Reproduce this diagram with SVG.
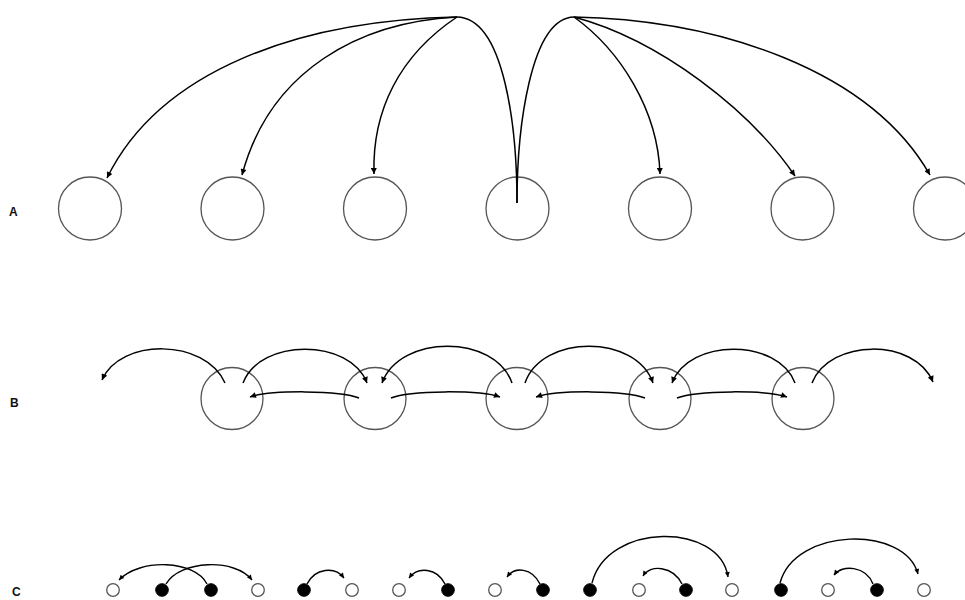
<svg xmlns="http://www.w3.org/2000/svg" width="965" height="600" viewBox="0 0 965 600">
<style>
.big{fill:none;stroke:#555;stroke-width:1.3}
.so{fill:#fff;stroke:#555;stroke-width:1.3}
.sf{fill:#000;stroke:#000;stroke-width:1}
.c{fill:none;stroke:#000;stroke-width:1.5}
.ca{fill:none;stroke:#000;stroke-width:1.5;marker-end:url(#ah)}
.cs{fill:none;stroke:#000;stroke-width:1.4;marker-end:url(#ahs)}
.lbl{font-family:"Liberation Sans",Arial,sans-serif;font-weight:bold;font-size:12px;fill:#111}
</style>
<defs>
<marker id="ah" viewBox="0 0 10 10" refX="10" refY="5" markerWidth="8" markerHeight="6" markerUnits="userSpaceOnUse" orient="auto"><path d="M0,0 L10,5 L0,10 z" fill="#000"/></marker>
<marker id="ahs" viewBox="0 0 10 10" refX="10" refY="5" markerWidth="7" markerHeight="5" markerUnits="userSpaceOnUse" orient="auto"><path d="M0,0 L10,5 L0,10 z" fill="#000"/></marker>
</defs>
<rect width="965" height="600" fill="#fff"/>
<g id="labels">
<text class="lbl" x="9" y="216">A</text>
<text class="lbl" x="10" y="407">B</text>
<text class="lbl" x="12" y="596">C</text>
</g>
<g id="rowA">
<g id="A1"><circle class="big" cx="90" cy="208.5" r="31.5"/></g>
<g id="A2"><circle class="big" cx="232.5" cy="208.5" r="31.5"/></g>
<g id="A3"><circle class="big" cx="375" cy="208.5" r="31.5"/></g>
<g id="A4"><circle class="big" cx="517.5" cy="208.5" r="31.5"/></g>
<g id="A5"><circle class="big" cx="660" cy="208.5" r="31.5"/></g>
<g id="A6"><circle class="big" cx="802.5" cy="208.5" r="31.5"/></g>
<g id="A7"><circle class="big" cx="945" cy="208.5" r="31.5"/></g>
</g>
<g id="rowB">
<g id="B1"><circle class="big" cx="232" cy="398.5" r="31"/></g>
<g id="B2"><circle class="big" cx="375" cy="398.5" r="31"/></g>
<g id="B3"><circle class="big" cx="517" cy="398.5" r="31"/></g>
<g id="B4"><circle class="big" cx="660" cy="398.5" r="31"/></g>
<g id="B5"><circle class="big" cx="803" cy="398.5" r="31"/></g>
</g>
<g id="rowC">
<g id="C1"><circle class="so" cx="113" cy="590" r="6.3"/></g>
<g id="C2"><circle class="sf" cx="162" cy="590" r="6.3"/></g>
<g id="C3"><circle class="sf" cx="211" cy="590" r="6.3"/></g>
<g id="C4"><circle class="so" cx="258" cy="590" r="6.3"/></g>
<g id="C5"><circle class="sf" cx="304" cy="590" r="6.3"/></g>
<g id="C6"><circle class="so" cx="352" cy="590" r="6.3"/></g>
<g id="C7"><circle class="so" cx="399" cy="590" r="6.3"/></g>
<g id="C8"><circle class="sf" cx="448" cy="590" r="6.3"/></g>
<g id="C9"><circle class="so" cx="495" cy="590" r="6.3"/></g>
<g id="C10"><circle class="sf" cx="543" cy="590" r="6.3"/></g>
<g id="C11"><circle class="sf" cx="590" cy="590" r="6.3"/></g>
<g id="C12"><circle class="so" cx="639" cy="590" r="6.3"/></g>
<g id="C13"><circle class="sf" cx="686" cy="590" r="6.3"/></g>
<g id="C14"><circle class="so" cx="732" cy="590" r="6.3"/></g>
<g id="C15"><circle class="sf" cx="781" cy="590" r="6.3"/></g>
<g id="C16"><circle class="so" cx="828" cy="590" r="6.3"/></g>
<g id="C17"><circle class="sf" cx="877" cy="590" r="6.3"/></g>
<g id="C18"><circle class="so" cx="924" cy="590" r="6.3"/></g>
</g>
<g id="connectors">
<!-- Row A trunks -->
<path class="c" d="M517,203 C517,130 505,18 457,17"/>
<path class="c" d="M517,203 C517,130 530,18 574,17"/>
<!-- Row A fans -->
<path class="ca" d="M457,17 C300,20 160,70 107,178"/>
<path class="ca" d="M457,17 C360,22 270,70 242,175"/>
<path class="ca" d="M457,17 C400,55 372,110 374,174"/>
<path class="ca" d="M574,17 C620,50 658,110 660,174"/>
<path class="ca" d="M574,17 C660,40 750,110 795,176"/>
<path class="ca" d="M574,17 C720,20 870,70 930,175"/>
<!-- Row B upper -->
<path class="ca" d="M225,383 C205,338 120,338 102,380"/>
<path class="ca" d="M243,383 C260,338 350,338 367,383"/>
<path class="ca" d="M512,383 C495,334 400,334 382,383"/>
<path class="ca" d="M525,383 C542,334 636,334 653,383"/>
<path class="ca" d="M795,383 C778,338 689,338 672,383"/>
<path class="ca" d="M812,383 C830,338 915,338 933,382"/>
<!-- Row B lower -->
<path class="ca" d="M359,398 C340,390 270,390 250,397"/>
<path class="ca" d="M391,398 C410,390 480,390 500,397"/>
<path class="ca" d="M645,398 C625,390 557,390 536,397"/>
<path class="ca" d="M677,398 C697,390 767,390 787,397"/>
<!-- Row C -->
<path class="cs" d="M207,584 C195,560 140,558 119,580"/>
<path class="cs" d="M166,584 C180,560 235,558 252,580"/>
<path class="cs" d="M307,584 C315,568 335,566 344,578"/>
<path class="cs" d="M445,584 C437,568 418,566 409,578"/>
<path class="cs" d="M540,584 C532,568 515,566 507,577"/>
<path class="cs" d="M592,583 C607,522 720,522 728,577"/>
<path class="cs" d="M682,584 C673,566 650,564 643,576"/>
<path class="cs" d="M780,583 C795,527 905,525 918,574"/>
<path class="cs" d="M873,584 C866,566 842,564 834,575"/>
</g>
</svg>
